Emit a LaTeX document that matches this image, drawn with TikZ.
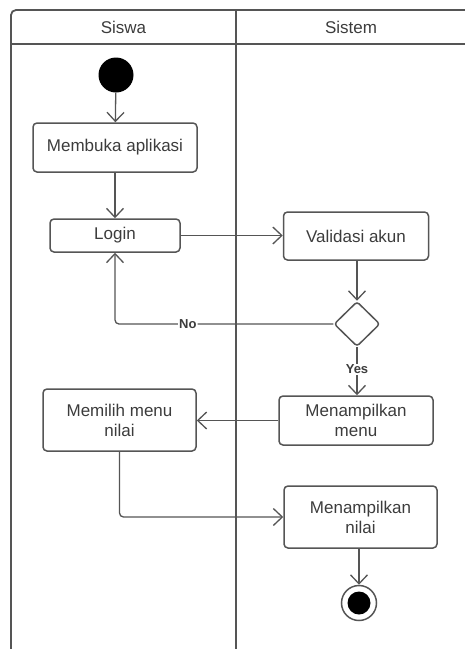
\documentclass[tikz,border=0pt]{standalone}
\usepackage{fontspec}
\setmainfont{Liberation Sans}
\usetikzlibrary{arrows.meta,shapes.geometric}

\definecolor{LINE}{HTML}{555555}
\definecolor{TXT}{HTML}{3C3C3C}

\tikzset{
    lane/.style={LINE, line width=1.8pt},
    act/.style={draw=LINE, line width=1.5pt, rounded corners=4pt, align=center,
        text=TXT, font=\fontsize{17}{20}\selectfont, inner sep=0pt},
    flow/.style={LINE, line width=1.3pt, -{Straight Barb[length=9pt,width=17pt]}},
    guard/.style={text=TXT, font=\fontsize{13}{15}\selectfont\bfseries, fill=white, inner sep=1pt}
}

\begin{document}
\begin{tikzpicture}[x=1pt, y=-1pt]
            \useasboundingbox (0,0) rectangle (465,649);

            % swimlanes
            \draw[lane, rounded corners=5pt] (11,649) -- (11,10) -- (465,10);
            \draw[lane] (11,44) -- (465,44);
            \draw[lane] (236,10) -- (236,649);
            \node[text=TXT, font=\fontsize{17}{20}\selectfont] (siswa) at (123.5,27) {Siswa};
            \node[text=TXT, font=\fontsize{17}{20}\selectfont] (sistem) at (351,27) {Sistem};

            \node[circle, fill=black, minimum size=35pt, inner sep=0pt] (start) at (116,75) {};

            \node[act, minimum width=164pt, minimum height=49pt] (membuka) at (115,147.5) {Membuka aplikasi};
            \node[act, minimum width=130pt, minimum height=33pt] (login) at (115,235.5) {Login};
            \node[act, minimum width=145pt, minimum height=48pt] (validasi) at (356,236) {Validasi akun};
            \node[diamond, draw=LINE, line width=1.5pt, rounded corners=3pt, minimum width=46pt,
                minimum height=45pt, inner sep=0pt] (cek) at (357,324) {};
            \node[act, minimum width=154pt, minimum height=49pt] (menu) at (356,420.5) {Menampilkan\\menu};
            \node[act, minimum width=153pt, minimum height=62pt] (memilih) at (119.5,420) {Memilih menu\\nilai};
            \node[act, minimum width=153pt, minimum height=62pt] (nilai) at (360.5,517) {Menampilkan\\nilai};

            \node[circle, draw=LINE, line width=1.5pt, minimum size=35pt, inner sep=0pt] (selesai) at (359,603) {};
            \node[circle, fill=black, minimum size=23pt, inner sep=0pt] at (selesai) {};

            \draw[flow] (start) -- (membuka);
            \draw[flow] (membuka) -- (login);
            \draw[flow] (login.east) -- (login.east -| validasi.west);
            \draw[flow] (validasi.south -| cek.north) -- (cek.north);
            \draw[flow, rounded corners=4pt] (cek.west) -| node[guard, pos=0.333] {No} (login.south);
            \draw[flow] (cek.south) -- node[guard, pos=0.46] {Yes} (cek.south |- menu.north);
            \draw[flow] (menu.west) -- (menu.west -| memilih.east);
            \draw[flow, rounded corners=4pt] (memilih.south) |- (nilai.west);
            \draw[flow] (nilai.south -| selesai.north) -- (selesai.north);
        \end{tikzpicture}
\end{document}
